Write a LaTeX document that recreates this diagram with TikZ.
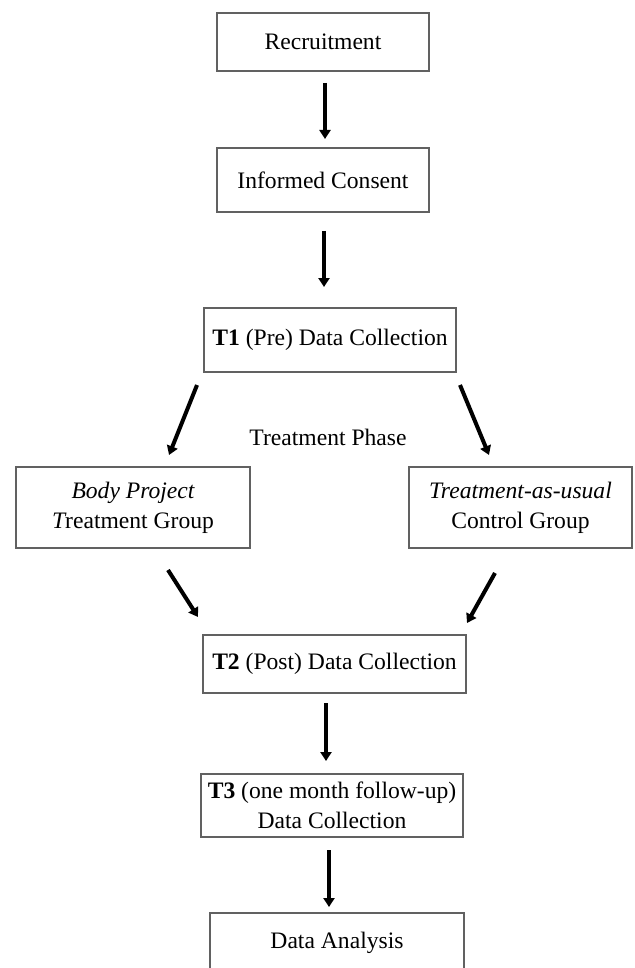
\documentclass[tikz,border=0pt]{standalone}
\usepackage{fontspec}
\setmainfont{Liberation Serif}
\usetikzlibrary{arrows.meta}
\begin{document}
\begin{tikzpicture}[x=0.5pt,y=-0.5pt,
  box/.style={draw=black!62, line width=0.75pt, inner sep=0pt, align=center,
    font=\fontsize{11.8}{15}\selectfont},
  arr/.style={line width=2pt, -{Triangle[length=4.5pt,width=5.5pt]}},
  lbl/.style={inner sep=0pt, font=\fontsize{11.8}{15}\selectfont}]
\useasboundingbox (0,0) rectangle (634,968);
\clip (0,0) rectangle (634,968);
% boxes
\node[box, minimum width=106pt, minimum height=29pt] (rec) at (323,42) {Recruitment};
\node[box, minimum width=106pt, minimum height=32pt] (ic) at (323,180) {Informed Consent};
\node[box, minimum width=126pt, minimum height=32pt] (t1) at (330,340) {\textbf{T1} (Pre) Data Collection};
\node[box, minimum width=117pt, minimum height=40.5pt] (bp) at (133,507.5) {{\itshape Body Project}\\{\itshape T}reatment Group};
\node[box, minimum width=111.5pt, minimum height=40.5pt] (tau) at (520.5,507.5) {{\itshape Treatment-as-usual}\\Control Group};
\node[box, minimum width=131.5pt, minimum height=29pt] (t2) at (334.5,664) {\textbf{T2} (Post) Data Collection};
\node[box, minimum width=131pt, minimum height=31.5pt] (t3) at (332,805.5) {\textbf{T3} (one month follow-up)\\Data Collection};
\node[box, minimum width=127pt, minimum height=30pt] (da) at (337,943) {Data Analysis};
\node[lbl] (phase) at (328,437) {Treatment Phase};
% arrow end points
\coordinate (a1s) at (325,83);  \coordinate (a1e) at (325,139);
\coordinate (a2s) at (324,231); \coordinate (a2e) at (324,287);
\coordinate (bls) at (197,385); \coordinate (ble) at (169,455);
\coordinate (brs) at (460,385); \coordinate (bre) at (489,455);
\coordinate (cls) at (168,570); \coordinate (cle) at (198,617);
\coordinate (crs) at (495,573); \coordinate (cre) at (467,623);
\coordinate (a5s) at (326,703); \coordinate (a5e) at (326,761);
\coordinate (a6s) at (329,850); \coordinate (a6e) at (329,907);
% arrows
\draw[arr] (a1s) -- (a1e);
\draw[arr] (a2s) -- (a2e);
\draw[arr] (bls) -- (ble);
\draw[arr] (brs) -- (bre);
\draw[arr] (cls) -- (cle);
\draw[arr] (crs) -- (cre);
\draw[arr] (a5s) -- (a5e);
\draw[arr] (a6s) -- (a6e);
\end{tikzpicture}
\end{document}
